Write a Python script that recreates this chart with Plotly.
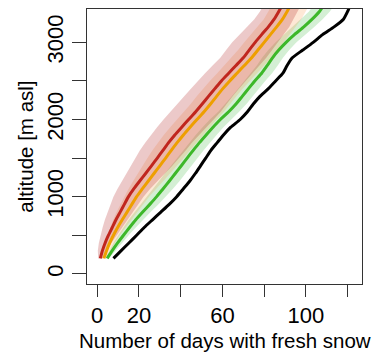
import plotly.graph_objects as go

# altitude grid (m asl)
altitude = [200, 300, 400, 500, 600, 700, 800, 900, 1000, 1100, 1200, 1300, 1400, 1500,
            1600, 1700, 1800, 1900, 2000, 2100, 2200, 2300, 2400, 2500, 2600, 2700,
            2800, 2900, 3000, 3100, 3200, 3300, 3400, 3500]

# number of days with fresh snow, per series
days_black = [7.8, 11.5, 15.2, 18.9, 22.5, 26.5, 30.5, 34.5, 38.1, 41.2, 44.3, 47.0, 49.5, 52.0,
              54.5, 57.5, 60.5, 64.0, 68.5, 72.0, 74.8, 78.0, 82.0, 85.5, 89.0, 91.0,
              93.5, 98.5, 103.5, 108.0, 113.5, 118.0, 120.0, 121.5]
days_green = [4.8, 7.2, 9.8, 12.6, 15.5, 18.5, 21.8, 25.2, 28.5, 31.5, 34.5, 37.4, 40.3, 43.1,
              46.0, 49.0, 52.2, 55.5, 59.0, 63.0, 66.5, 69.5, 72.5, 75.5, 78.8, 81.5,
              84.0, 87.0, 90.5, 94.5, 99.0, 103.0, 106.5, 109.0]
days_orange = [3.2, 4.5, 6.0, 7.8, 9.8, 12.0, 14.3, 16.6, 18.9, 21.6, 24.4, 27.2, 30.0, 32.8,
               35.5, 38.3, 41.3, 44.5, 47.8, 51.2, 54.3, 57.2, 60.2, 63.5, 67.0, 70.5,
               74.0, 77.0, 80.0, 83.0, 86.0, 88.8, 91.0, 93.0]
days_red = [1.5, 2.5, 3.8, 5.4, 7.2, 9.0, 11.0, 13.0, 15.0, 17.5, 20.3, 23.2, 26.0, 28.8,
            31.5, 34.2, 37.2, 40.5, 43.8, 47.2, 50.3, 53.3, 56.4, 59.5, 63.0, 66.5,
            70.0, 72.8, 75.7, 78.8, 82.0, 84.8, 87.0, 89.0]

# half-widths of the shaded ranges
spread_red = [1.0, 2.2, 3.0, 3.8, 4.6, 5.3, 6.0, 6.6, 7.2, 7.8, 8.5, 9.2, 10.0, 10.6,
              11.0, 11.2, 11.5, 11.8, 12.0, 12.0, 11.8, 11.6, 11.5, 11.4, 11.3, 11.2,
              11.0, 11.0, 11.0, 10.5, 10.0, 9.5, 9.0, 9.0]
spread_orange = [0.8, 1.8, 2.5, 3.0, 3.7, 4.3, 5.0, 5.5, 6.0, 6.6, 7.2, 7.8, 8.3, 8.7,
                 9.0, 9.2, 9.4, 9.5, 9.5, 9.5, 9.5, 9.5, 9.5, 9.5, 9.5, 9.5,
                 9.5, 9.5, 9.5, 9.3, 9.0, 9.0, 9.0, 9.0]
spread_green = [0.8, 1.5, 2.0, 2.5, 3.0, 3.4, 3.8, 4.2, 4.5, 4.7, 4.9, 5.0, 5.0, 5.0,
                5.0, 5.0, 5.0, 5.0, 5.0, 5.0, 5.0, 5.0, 5.0, 5.0, 5.0, 5.0,
                5.0, 5.0, 5.0, 5.0, 5.0, 5.0, 5.0, 5.0]

x_ticks = [0, 20, 40, 60, 80, 100, 120]
x_tick_labels = ["0", "20", "", "60", "", "100", ""]
y_ticks = [0, 500, 1000, 1500, 2000, 2500, 3000]
y_tick_labels = ["0", "", "1000", "", "2000", "", "3000"]

FONT = "Liberation Sans, Arial, Helvetica, sans-serif"

fig = go.Figure()


def band(center, spread, color):
    lo = [c - s for c, s in zip(center, spread)]
    hi = [c + s for c, s in zip(center, spread)]
    fig.add_trace(go.Scatter(
        x=lo + hi[::-1], y=altitude + altitude[::-1],
        fill="toself", fillcolor=color, mode="lines",
        line=dict(width=0, color="rgba(0,0,0,0)"),
        hoverinfo="skip", showlegend=False))


band(days_green, spread_green, "rgba(60,180,60,0.22)")
band(days_orange, spread_orange, "rgba(250,150,70,0.22)")
band(days_red, spread_red, "rgba(180,40,40,0.25)")

for vals, col in [(days_black, "#000000"), (days_green, "#3DB82A"),
                  (days_orange, "#EE9F00"), (days_red, "#C0261E")]:
    fig.add_trace(go.Scatter(
        x=vals, y=altitude, mode="lines",
        line=dict(color=col, width=3, shape="spline", smoothing=0.6),
        showlegend=False))

axis_common = dict(
    showgrid=False, zeroline=False,
    showline=True, mirror=True, linecolor="#333333", linewidth=1,
    ticks="outside", tickcolor="#333333", tickwidth=1,
    tickfont=dict(family=FONT, size=22, color="black"),
)

fig.update_xaxes(range=[-4.88, 126.88], tickvals=x_ticks, ticktext=x_tick_labels,
                 ticklen=12, **axis_common)
fig.update_yaxes(range=[-132, 3432], tickvals=y_ticks, ticktext=y_tick_labels,
                 ticklen=14, tickangle=-90, **axis_common)

fig.add_annotation(text="Number of days with fresh snow", xref="paper", yref="paper",
                   x=0.5, y=-0.155, xanchor="center", yanchor="top", showarrow=False,
                   font=dict(family=FONT, size=20.5, color="black"))
fig.add_annotation(text="altitude [m asl]", xref="paper", yref="paper",
                   x=-0.225, y=0.5, xanchor="center", yanchor="middle", textangle=-90,
                   showarrow=False, font=dict(family=FONT, size=20.5, color="black"))

fig.update_layout(
    width=388, height=356,
    margin=dict(l=87, r=26, t=9, b=72, autoexpand=False),
    paper_bgcolor="white", plot_bgcolor="white",
    font=dict(family=FONT, size=22, color="black"),
)

fig.write_html("out.html")
